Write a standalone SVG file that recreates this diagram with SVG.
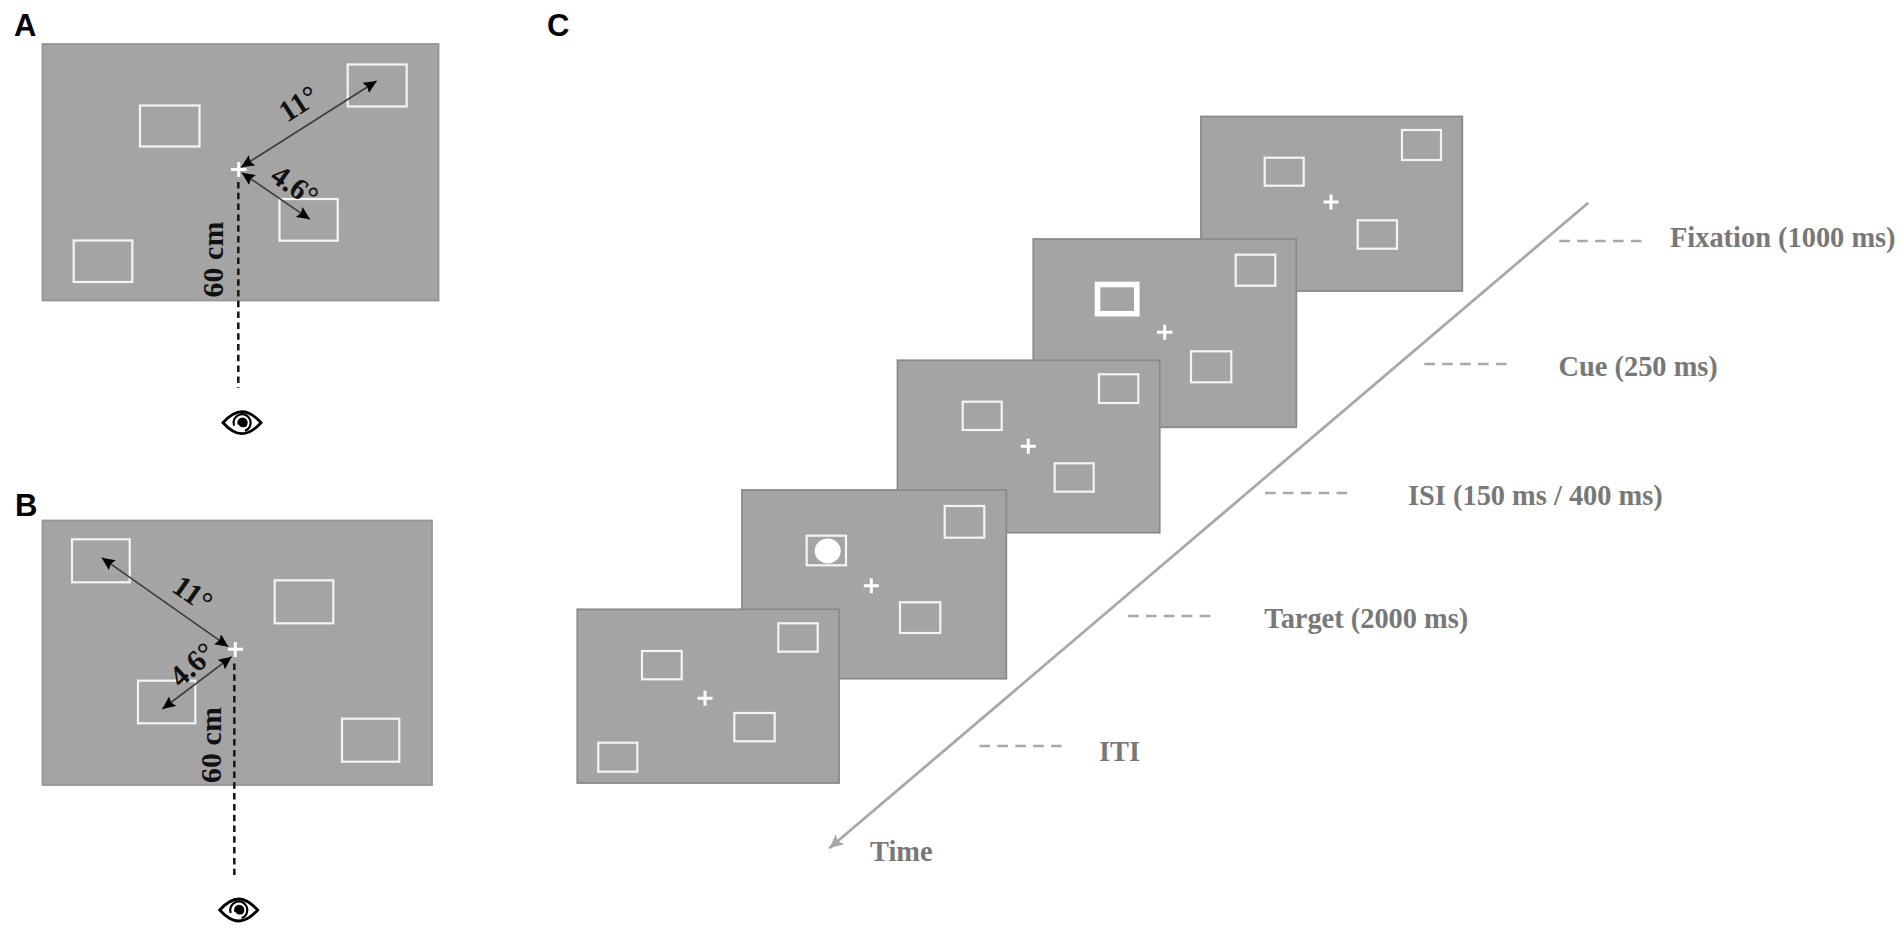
<svg xmlns="http://www.w3.org/2000/svg" width="1904" height="929" viewBox="0 0 1904 929">
<style>
.letter{font-family:"Liberation Sans",Arial,sans-serif;font-weight:700;font-size:31px;fill:#000}
.dim{font-family:"Liberation Serif","Times New Roman",serif;font-weight:700;font-size:30px;fill:#111;text-anchor:middle}
.lab{font-family:"Liberation Serif","Times New Roman",serif;font-weight:700;font-size:28.4px;fill:#787878}
.screen{fill:#a4a4a4;stroke:#8a8a8a;stroke-width:1.8}
.panel{fill:#a4a4a4;stroke:#959595;stroke-width:1.8}
.box{fill:none;stroke:#f4f4f4;stroke-width:2.2}
.cross{stroke:#fff;stroke-width:3;fill:none}
.arrow{stroke:#3c3c3c;stroke-width:1.6;fill:none;marker-start:url(#head);marker-end:url(#head)}
.sight{stroke:#1a1a1a;stroke-width:2.6;stroke-dasharray:6.5 4.3;fill:none}
.tick{stroke:#a8a8a8;stroke-width:2.6;stroke-dasharray:10.6 7.3;fill:none}
</style>
<defs>
<marker id="head" markerUnits="userSpaceOnUse" markerWidth="14" markerHeight="13" refX="13" refY="6" orient="auto-start-reverse">
<path d="M0,0 L13,6 L0,12 L2,6 Z" fill="#000"/>
</marker>
<marker id="timehead" markerUnits="userSpaceOnUse" markerWidth="15" markerHeight="14" refX="14" refY="6.5" orient="auto">
<path d="M0,0 L14,6.5 L0,13 L3,6.5 Z" fill="#a8a8a8"/>
</marker>
<g id="eye">
<path d="M-19,0 Q-9,-11 0,-11 Q9,-11 19,0 Q9,11 0,11 Q-9,11 -19,0 Z" fill="#fff" stroke="#000" stroke-width="2.8"/>
<path d="M-8,3 A8.6,8.6 0 1 1 3,8.2" fill="none" stroke="#000" stroke-width="2.2"/>
<circle cx="0.5" cy="0" r="5.2" fill="#000"/>
<path d="M-4,2 A5,5 0 0 0 3,4.5" fill="none" stroke="#fff" stroke-width="1.3"/>
</g>
</defs>
<rect width="1904" height="929" fill="#fff"/>

<g id="panel-a">
<rect class="panel" x="42.500" y="44" width="396" height="256.500"/>
<rect class="box" x="347.700" y="64.500" width="59" height="42"/>
<rect class="box" x="140" y="105.500" width="59.500" height="41"/>
<rect class="box" x="279.500" y="199" width="58.200" height="41.700"/>
<rect class="box" x="73.700" y="240.500" width="58.600" height="41.500"/>
<path class="cross" d="M231,169.500H246.500M238.700,162V177"/>
<text class="letter" x="14" y="35.700">A</text>
<text class="dim" transform="translate(304,112) rotate(-33)" x="0" y="0">11°</text>
<text class="dim" transform="translate(289,194) rotate(35)" x="0" y="0">4.6°</text>
<text class="dim" transform="translate(222.700,259.500) rotate(-90)" x="0" y="0">60 cm</text>
<use href="#eye" x="242" y="422.700"/>
</g>

<g id="panel-b">
<rect class="panel" x="42.500" y="520.500" width="389.500" height="264.500"/>
<rect class="box" x="72" y="539.300" width="57.700" height="43"/>
<rect class="box" x="274.700" y="580.300" width="58.600" height="43"/>
<rect class="box" x="138" y="680.700" width="57.300" height="42.600"/>
<rect class="box" x="342" y="718.700" width="57.300" height="43"/>
<path class="cross" d="M228,649.300H243M235.300,642V657"/>
<text class="letter" x="15" y="515.700">B</text>
<text class="dim" transform="translate(187,602) rotate(35)" x="0" y="0">11°</text>
<text class="dim" transform="translate(199,672) rotate(-42)" x="0" y="0">4.6°</text>
<text class="dim" transform="translate(220.700,745) rotate(-90)" x="0" y="0">60 cm</text>
<use href="#eye" x="238.700" y="910"/>
</g>

<g id="panel-c">
<text class="letter" x="547" y="35.700">C</text>
<g id="screen-fixation">
<rect class="screen" x="1201" y="116.500" width="261.300" height="174.500"/>
<rect class="box" x="1264.700" y="157.700" width="39" height="28"/>
<rect class="box" x="1402" y="130" width="39" height="30"/>
<rect class="box" x="1357.700" y="220.300" width="39.300" height="28.400"/>
<path class="cross" d="M1323.500,202H1338.500M1331,194.500V209.500"/>
</g>
<g id="screen-cue">
<rect class="screen" x="1033.300" y="239" width="263" height="188.300"/>
<rect class="box" style="stroke:#fff;stroke-width:5.600" x="1097.500" y="284.500" width="39.300" height="29.200"/>
<rect class="box" x="1235.700" y="254.700" width="39.600" height="31"/>
<rect class="box" x="1191" y="351.300" width="40.300" height="31"/>
<path class="cross" d="M1157,332.300H1172.500M1164.700,324.800V339.800"/>
</g>
<g id="screen-isi">
<rect class="screen" x="897.500" y="360.300" width="262.200" height="172.400"/>
<rect class="box" x="962.700" y="401.700" width="39" height="28.300"/>
<rect class="box" x="1099" y="374.300" width="39.300" height="28.700"/>
<rect class="box" x="1054.700" y="463.300" width="39" height="28.400"/>
<path class="cross" d="M1020.800,446.300H1035.800M1028.300,438.800V453.800"/>
</g>
<g id="screen-target">
<rect class="screen" x="742" y="490" width="264.300" height="188.700"/>
<rect class="box" x="806.700" y="535.700" width="39.300" height="29.600"/>
<ellipse cx="827.700" cy="551" rx="13" ry="12.500" fill="#fff"/>
<rect class="box" x="944.700" y="506" width="39.600" height="31.700"/>
<rect class="box" x="900" y="602.300" width="40.300" height="30.700"/>
<path class="cross" d="M863.800,585.700H878.800M871.300,578.200V593.200"/>
</g>
<g id="screen-iti">
<rect class="screen" x="577.300" y="609.300" width="261.700" height="173.700"/>
<rect class="box" x="642" y="651" width="39.700" height="28.300"/>
<rect class="box" x="778.300" y="623.300" width="39.400" height="28.400"/>
<rect class="box" x="734.300" y="713" width="40.400" height="28.300"/>
<rect class="box" x="598.300" y="742.700" width="39" height="29"/>
<path class="cross" d="M697.500,698.300H712.500M705,690.800V705.800"/>
</g>
</g>

<g id="connectors">
<line class="arrow" x1="241" y1="167.300" x2="376.700" y2="81"/>
<line class="arrow" x1="241.700" y1="172.700" x2="310" y2="219.300"/>
<line class="sight" x1="238.300" y1="182" x2="238.300" y2="388"/>
<line class="arrow" x1="228.300" y1="646.700" x2="101.700" y2="557.700"/>
<line class="arrow" x1="231.700" y1="656.700" x2="162.300" y2="709"/>
<line class="sight" x1="234.300" y1="663.500" x2="234.300" y2="875"/>
<line x1="1588.300" y1="202.700" x2="829.300" y2="848.300" stroke="#a8a8a8" stroke-width="2.800" marker-end="url(#timehead)"/>
<line class="tick" x1="1559.300" y1="241" x2="1641.700" y2="241"/>
<line class="tick" x1="1424.300" y1="364" x2="1506.700" y2="364"/>
<line class="tick" x1="1265" y1="493" x2="1347.700" y2="493"/>
<line class="tick" x1="1128" y1="616" x2="1210.700" y2="616"/>
<line class="tick" x1="979.500" y1="746" x2="1062.500" y2="746"/>
</g>

<g id="labels">
<text class="lab" x="1670" y="247">Fixation (1000 ms)</text>
<text class="lab" x="1558.500" y="376">Cue (250 ms)</text>
<text class="lab" x="1408" y="505">ISI (150 ms / 400 ms)</text>
<text class="lab" x="1264.300" y="628">Target (2000 ms)</text>
<text class="lab" x="1099" y="760.700">ITI</text>
<text class="lab" x="870" y="860.700">Time</text>
</g>
</svg>
